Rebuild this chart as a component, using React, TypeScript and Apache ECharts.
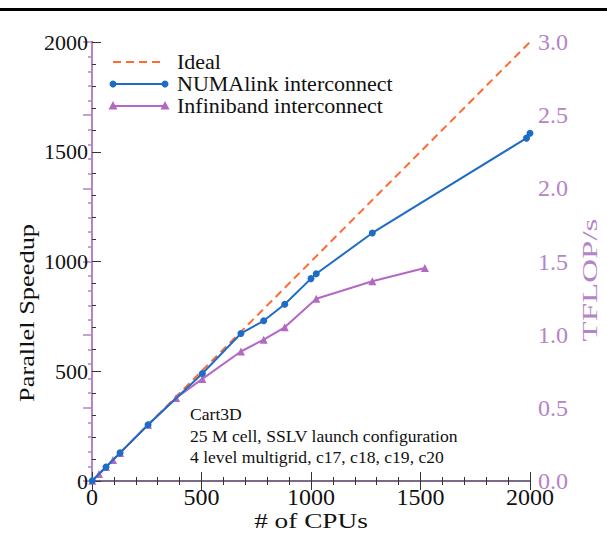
import React, { useEffect, useRef } from "react";
import * as echarts from "echarts";

const xTicks = [0, 500, 1000, 1500, 2000];
const idealCpus = [0, 2000];
const idealSpeed = [0, 2000];
const numaCpus = [1, 64, 128, 256, 504, 680, 784, 880, 1000, 1024, 1280, 1984, 2000];
const numaSpeed = [1, 64, 128, 256, 490, 672, 730, 805, 922, 944, 1130, 1562, 1584];
const infCpus = [1, 32, 64, 96, 128, 256, 384, 504, 680, 784, 880, 1024, 1280, 1520];
const infSpeed = [1, 32, 64, 96, 128, 256, 378, 465, 590, 644, 700, 830, 910, 970];
const legendNames = ["Ideal", "NUMAlink interconnect", "Infiniband interconnect"];
const noteLines = ["Cart3D", "25 M cell, SSLV launch configuration", "4 level multigrid, c17, c18, c19, c20"];

const FONT = "'Liberation Serif', 'DejaVu Serif', serif";
const ORANGE = "#ff6a33";
const BLUE = "#1f6cc6";
const PURPLE = "#b268c4";
const PURPLE_TXT = "#b584c6";
const FRAME = "#7d6a86";
const MAJ = -9;
const MIN = -4;

const zip = (a: number[], b: number[]) => a.map((v, i) => [v, b[i]]);

export default function App() {
  const ref = useRef<HTMLDivElement>(null);
  useEffect(() => {
    if (!ref.current) return;
    const chart = echarts.init(ref.current, undefined, { renderer: "svg" });
    const lx0 = 113, lx1 = 165, ltx = 177;
    const ly = [62, 84, 106];
    const tri = (cx: number, cy: number) => ({
      type: "polygon",
      shape: { points: [[cx, cy - 5], [cx - 4.5, cy + 3.5], [cx + 4.5, cy + 3.5]] },
      style: { fill: PURPLE },
    });
    const graphic: any[] = [
      { type: "rect", shape: { x: 0, y: 8, width: 607, height: 3 }, style: { fill: "#000" } },
      { type: "line", shape: { x1: lx0, y1: ly[0], x2: lx1, y2: ly[0] }, style: { stroke: ORANGE, lineWidth: 2, lineDash: [8, 5] } },
      { type: "line", shape: { x1: lx0, y1: ly[1], x2: lx1, y2: ly[1] }, style: { stroke: BLUE, lineWidth: 2 } },
      { type: "circle", shape: { cx: lx0, cy: ly[1], r: 3.5 }, style: { fill: BLUE } },
      { type: "circle", shape: { cx: lx1, cy: ly[1], r: 3.5 }, style: { fill: BLUE } },
      { type: "line", shape: { x1: lx0, y1: ly[2], x2: lx1, y2: ly[2] }, style: { stroke: PURPLE, lineWidth: 2 } },
      tri(lx0, ly[2]),
      tri(lx1, ly[2]),
      ...legendNames.map((t, i) => ({
        type: "text", x: ltx, y: ly[i], scaleX: 1.1,
        style: { text: t, font: `20px ${FONT}`, fill: "#111", verticalAlign: "middle", align: "left" },
      })),
      ...noteLines.map((t, i) => ({
        type: "text", x: 190, y: 415 + i * 21.5, scaleX: 1.1,
        style: { text: t, font: `16px ${FONT}`, fill: "#111", verticalAlign: "middle", align: "left" },
      })),
      {
        type: "text", x: 26, y: 313, rotation: Math.PI / 2, scaleX: 1.2,
        style: { text: "Parallel Speedup", font: `22px ${FONT}`, fill: "#111", align: "center", verticalAlign: "middle" },
      },
      {
        type: "text", x: 590, y: 280, rotation: Math.PI / 2, scaleX: 1.5,
        style: { text: "TFLOP/s", font: `22px ${FONT}`, fill: PURPLE_TXT, align: "center", verticalAlign: "middle" },
      },
      {
        type: "text", x: 311, y: 521, scaleX: 1.3,
        style: { text: "# of CPUs", font: `21px ${FONT}`, fill: "#111", align: "center", verticalAlign: "middle" },
      },
    ];
    chart.setOption({
      animation: false,
      grid: { left: 92, right: 77, top: 42, bottom: 74, containLabel: false },
      xAxis: [
        {
          type: "value", min: 0, max: 2000, interval: 500, position: "bottom",
          axisLine: { show: true, lineStyle: { color: FRAME, width: 2 } },
          axisTick: { show: true, length: MAJ, lineStyle: { color: "#333" } },
          minorTick: { show: true, splitNumber: 5, length: MIN, lineStyle: { color: "#333" } },
          axisLabel: { fontFamily: FONT, fontSize: 24, color: "#111", margin: 4,
            formatter: (v: number) => (xTicks.includes(v) ? String(v) : "") },
          splitLine: { show: false },
        },
        {
          type: "value", min: 0, max: 2000, interval: 500, position: "top",
          axisLine: { show: true, lineStyle: { color: FRAME, width: 2 } },
          axisTick: { show: true, length: MAJ, lineStyle: { color: "#333" } },
          minorTick: { show: true, splitNumber: 5, length: MIN, lineStyle: { color: "#333" } },
          axisLabel: { show: false },
          splitLine: { show: false },
        },
      ],
      yAxis: [
        {
          type: "value", min: 0, max: 2000, interval: 500, position: "left",
          axisLine: { show: true, lineStyle: { color: "#333", width: 2 } },
          axisTick: { show: true, length: MAJ, lineStyle: { color: "#333" } },
          minorTick: { show: true, splitNumber: 5, length: MIN, lineStyle: { color: "#333" } },
          axisLabel: { fontFamily: FONT, fontSize: 22, color: "#111", margin: 4,
            formatter: (v: number) => String(v) },
          splitLine: { show: false },
        },
        {
          type: "value", min: 0, max: 3, interval: 0.5, position: "right",
          axisLine: { show: true, lineStyle: { color: PURPLE_TXT, width: 2 } },
          axisTick: { show: true, length: MAJ, lineStyle: { color: PURPLE_TXT, width: 1.5 } },
          minorTick: { show: true, splitNumber: 5, length: MIN, lineStyle: { color: PURPLE_TXT, width: 1.5 } },
          axisLabel: { fontFamily: FONT, fontSize: 24, color: PURPLE_TXT, margin: 8,
            formatter: (v: number) => v.toFixed(1) },
          splitLine: { show: false },
        },
      ],
      graphic,
      series: [
        {
          name: legendNames[0], type: "line", data: zip(idealCpus, idealSpeed), showSymbol: false,
          lineStyle: { color: ORANGE, width: 2, type: [8, 5] }, z: 2,
        },
        {
          name: legendNames[2], type: "line", data: zip(infCpus, infSpeed),
          symbol: "triangle", symbolSize: 8, itemStyle: { color: PURPLE },
          lineStyle: { color: PURPLE, width: 2 }, z: 3,
        },
        {
          name: legendNames[1], type: "line", data: zip(numaCpus, numaSpeed),
          symbol: "circle", symbolSize: 7, itemStyle: { color: BLUE },
          lineStyle: { color: BLUE, width: 2 }, z: 4, clip: false,
        },
      ],
    });
    return () => chart.dispose();
  }, []);
  return (
    <div
      ref={ref}
      style={{ position: "fixed", left: 0, top: 0, width: 607, height: 555, background: "#fff" }}
    />
  );
}
